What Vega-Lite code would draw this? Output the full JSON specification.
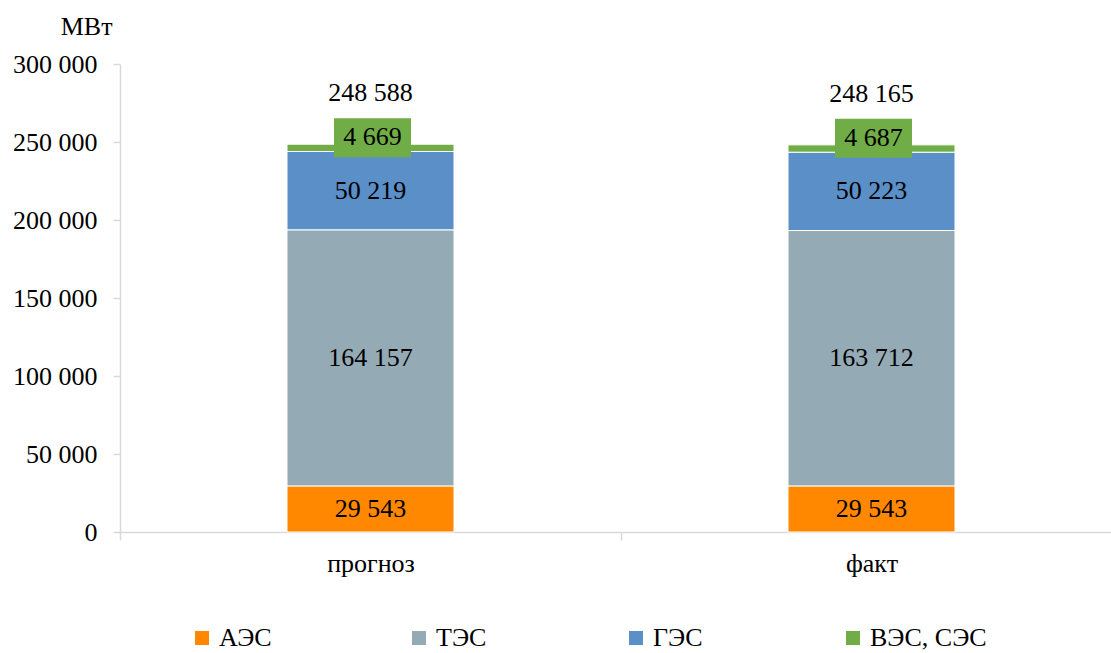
{
  "$schema": "https://vega.github.io/schema/vega-lite/v6.json",
  "width": 991,
  "height": 468,
  "autosize": "none",
  "padding": {"left": 120, "top": 64, "right": 0, "bottom": 121},
  "background": "white",
  "config": {
    "view": {"stroke": null},
    "font": "Liberation Serif, Times New Roman, serif",
    "locale": {"number": {"decimal": ",", "thousands": " ", "grouping": [3], "currency": ["", ""]}}
  },
  "data": {
    "values": [
      {"cat": "прогноз", "series": "АЭС", "idx": 1, "value": 29543},
      {"cat": "прогноз", "series": "ТЭС", "idx": 2, "value": 164157},
      {"cat": "прогноз", "series": "ГЭС", "idx": 3, "value": 50219},
      {"cat": "прогноз", "series": "ВЭС, СЭС", "idx": 4, "value": 4669},
      {"cat": "факт", "series": "АЭС", "idx": 1, "value": 29543},
      {"cat": "факт", "series": "ТЭС", "idx": 2, "value": 163712},
      {"cat": "факт", "series": "ГЭС", "idx": 3, "value": 50223},
      {"cat": "факт", "series": "ВЭС, СЭС", "idx": 4, "value": 4687}
    ]
  },
  "transform": [
    {"stack": "value", "groupby": ["cat"], "sort": [{"field": "idx", "order": "ascending"}], "as": ["s0", "s1"]}
  ],
  "encoding": {
    "x": {
      "field": "cat",
      "type": "nominal",
      "sort": ["прогноз", "факт"],
      "scale": {"paddingInner": 0, "paddingOuter": 0, "range": [0, 1002]},
      "axis": {
        "title": null,
        "labelAngle": 0,
        "labelFont": "Liberation Serif, Times New Roman, serif",
        "labelFontSize": 26,
        "labelColor": "black",
        "labelPadding": 10,
        "tickBand": "extent",
        "tickSize": 8,
        "tickColor": "#d9d9d9",
        "tickWidth": 1.5,
        "domainColor": "#d9d9d9",
        "domainWidth": 1.5
      }
    }
  },
  "layer": [
    {
      "mark": {"type": "bar", "width": 167, "stroke": "white", "strokeWidth": 1},
      "encoding": {
        "y": {
          "field": "s0",
          "type": "quantitative",
          "scale": {"domain": [0, 300000]},
          "axis": {
            "values": [0, 50000, 100000, 150000, 200000, 250000, 300000],
            "format": ",d",
            "grid": false,
            "labelFont": "Liberation Serif, Times New Roman, serif",
            "labelFontSize": 26,
            "labelColor": "black",
            "labelPadding": 16,
            "tickSize": 7,
            "tickColor": "#d9d9d9",
            "tickWidth": 1.5,
            "domainColor": "#d9d9d9",
            "domainWidth": 1.5,
            "title": "МВт",
            "titleFont": "Liberation Serif, Times New Roman, serif",
            "titleFontSize": 26,
            "titleFontWeight": "normal",
            "titleColor": "black",
            "titleAngle": 0,
            "titleAlign": "right",
            "titleBaseline": "alphabetic",
            "titleX": -8,
            "titleY": -30
          }
        },
        "y2": {"field": "s1"},
        "color": {
          "field": "series",
          "type": "nominal",
          "scale": {
            "domain": ["АЭС", "ТЭС", "ГЭС", "ВЭС, СЭС"],
            "range": ["#FF8800", "#94ABB5", "#5B8FC8", "#70AD47"]
          },
          "legend": {
            "title": null,
            "orient": "none",
            "legendX": 69,
            "legendY": 561,
            "direction": "horizontal",
            "columns": 4,
            "gridAlign": "all",
            "columnPadding": 70,
            "symbolType": "square",
            "symbolSize": 196,
            "symbolStrokeWidth": 0,
            "labelFont": "Liberation Serif, Times New Roman, serif",
            "labelFontSize": 26,
            "labelColor": "black",
            "labelOffset": 4,
            "labelLimit": 300
          }
        }
      }
    },
    {
      "transform": [
        {"filter": "datum.series != 'ВЭС, СЭС'"},
        {"fold": ["s0", "s1"], "as": ["edge", "pos"]}
      ],
      "mark": {"type": "text", "fontSize": 26, "baseline": "middle", "color": "black", "font": "Liberation Serif, Times New Roman, serif"},
      "encoding": {
        "y": {"aggregate": "mean", "field": "pos", "type": "quantitative"},
        "text": {"field": "value", "type": "quantitative", "format": ",d"},
        "detail": {"field": "series"}
      }
    },
    {
      "transform": [{"filter": "datum.series == 'ВЭС, СЭС'"}],
      "mark": {"type": "bar", "width": 77, "color": "#70AD47", "xOffset": 2, "yOffset": -26, "y2Offset": 13},
      "encoding": {
        "y": {"field": "s1", "type": "quantitative"},
        "y2": {"field": "s1"}
      }
    },
    {
      "transform": [{"filter": "datum.series == 'ВЭС, СЭС'"}],
      "mark": {"type": "text", "fontSize": 26, "baseline": "middle", "dx": 2, "dy": -7, "color": "black", "font": "Liberation Serif, Times New Roman, serif"},
      "encoding": {
        "y": {"field": "s1", "type": "quantitative"},
        "text": {"field": "value", "type": "quantitative", "format": ",d"}
      }
    },
    {
      "transform": [{"filter": "datum.series == 'ВЭС, СЭС'"}],
      "mark": {"type": "text", "fontSize": 26, "baseline": "middle", "dy": -51, "color": "black", "font": "Liberation Serif, Times New Roman, serif"},
      "encoding": {
        "y": {"field": "s1", "type": "quantitative"},
        "text": {"field": "s1", "type": "quantitative", "format": ",d"}
      }
    }
  ]
}
